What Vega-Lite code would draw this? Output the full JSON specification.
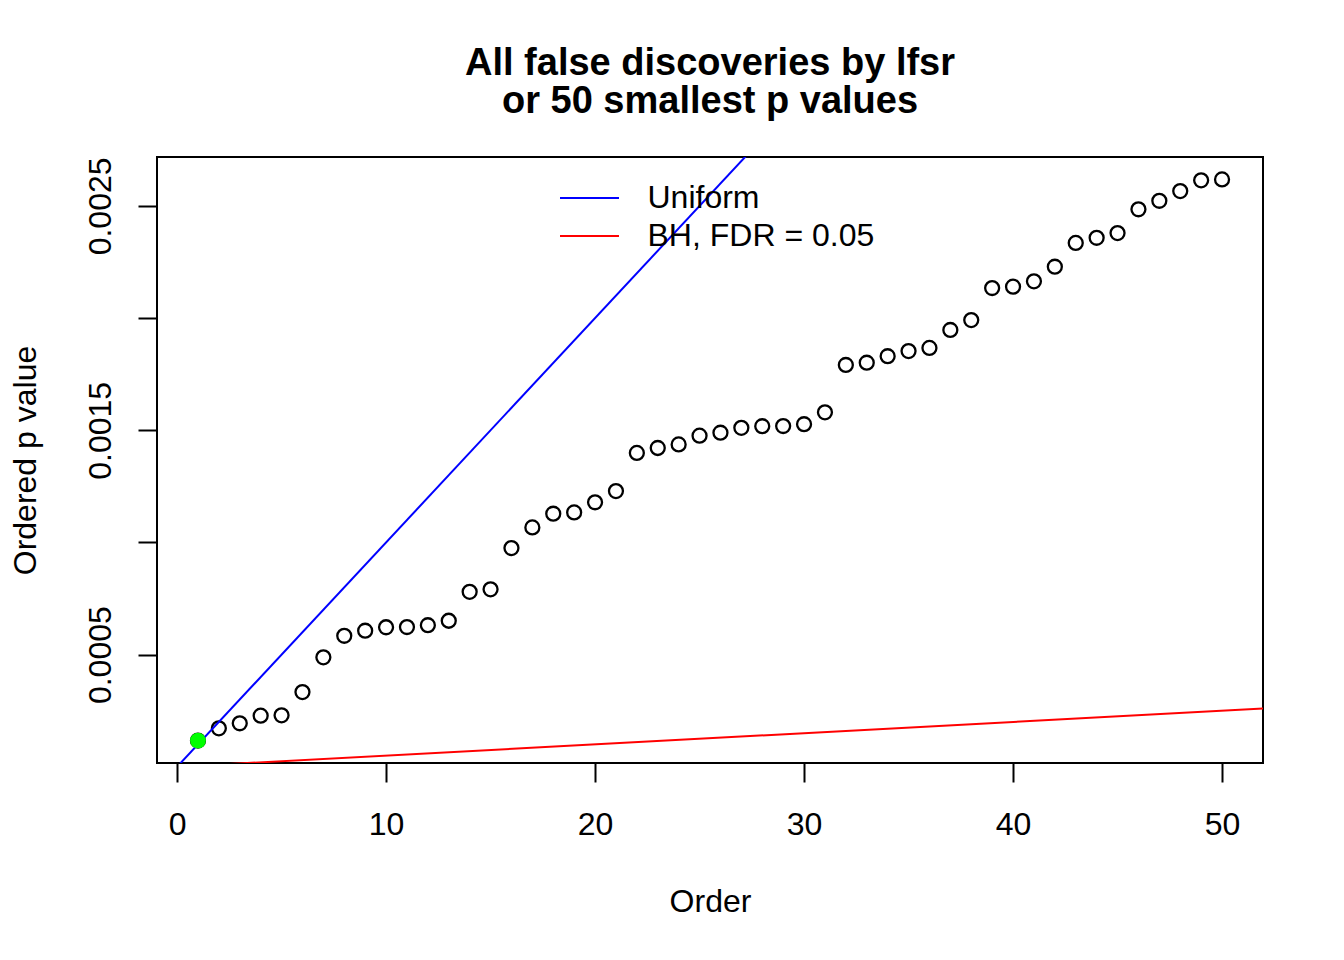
{
  "$schema": "https://vega.github.io/schema/vega-lite/v6.json",
  "width": 1106,
  "height": 606,
  "autosize": {"type": "none"},
  "padding": {"left": 157, "top": 157, "right": 81, "bottom": 197},
  "background": "white",
  "config": {
    "font": "Liberation Sans",
    "view": {"stroke": "black", "strokeWidth": 2},
    "axis": {
      "domain": false, "grid": false, "ticks": true,
      "tickColor": "black", "tickWidth": 2, "tickSize": 19,
      "labelFont": "Liberation Sans", "labelFontSize": 32, "labelColor": "black",
      "labelOverlap": false, "labelFlush": false,
      "titleFont": "Liberation Sans", "titleFontSize": 32, "titleFontWeight": "normal", "titleColor": "black"
    }
  },
  "title": {
    "text": ["All false discoveries by lfsr", "or 50 smallest p values"],
    "anchor": "middle", "frame": "group",
    "font": "Liberation Sans", "fontSize": 38, "fontWeight": "bold", "color": "black",
    "lineHeight": 38, "offset": 36
  },
  "datasets": {
    "pvals": [
      {"order": 1, "p": 0.000117, "lfsr": "yes"},
      {"order": 2, "p": 0.0001715, "lfsr": "no"},
      {"order": 3, "p": 0.000194, "lfsr": "no"},
      {"order": 4, "p": 0.000228, "lfsr": "no"},
      {"order": 5, "p": 0.0002294, "lfsr": "no"},
      {"order": 6, "p": 0.000333, "lfsr": "no"},
      {"order": 7, "p": 0.000488, "lfsr": "no"},
      {"order": 8, "p": 0.000584, "lfsr": "no"},
      {"order": 9, "p": 0.0006065, "lfsr": "no"},
      {"order": 10, "p": 0.000622, "lfsr": "no"},
      {"order": 11, "p": 0.000623, "lfsr": "no"},
      {"order": 12, "p": 0.000631, "lfsr": "no"},
      {"order": 13, "p": 0.000651, "lfsr": "no"},
      {"order": 14, "p": 0.00078, "lfsr": "no"},
      {"order": 15, "p": 0.000791, "lfsr": "no"},
      {"order": 16, "p": 0.000975, "lfsr": "no"},
      {"order": 17, "p": 0.001067, "lfsr": "no"},
      {"order": 18, "p": 0.001128, "lfsr": "no"},
      {"order": 19, "p": 0.001134, "lfsr": "no"},
      {"order": 20, "p": 0.001179, "lfsr": "no"},
      {"order": 21, "p": 0.001229, "lfsr": "no"},
      {"order": 22, "p": 0.001399, "lfsr": "no"},
      {"order": 23, "p": 0.001421, "lfsr": "no"},
      {"order": 24, "p": 0.001437, "lfsr": "no"},
      {"order": 25, "p": 0.001476, "lfsr": "no"},
      {"order": 26, "p": 0.001489, "lfsr": "no"},
      {"order": 27, "p": 0.001511, "lfsr": "no"},
      {"order": 28, "p": 0.001518, "lfsr": "no"},
      {"order": 29, "p": 0.001519, "lfsr": "no"},
      {"order": 30, "p": 0.001527, "lfsr": "no"},
      {"order": 31, "p": 0.00158, "lfsr": "no"},
      {"order": 32, "p": 0.001791, "lfsr": "no"},
      {"order": 33, "p": 0.001801, "lfsr": "no"},
      {"order": 34, "p": 0.00183, "lfsr": "no"},
      {"order": 35, "p": 0.001853, "lfsr": "no"},
      {"order": 36, "p": 0.001867, "lfsr": "no"},
      {"order": 37, "p": 0.001947, "lfsr": "no"},
      {"order": 38, "p": 0.001991, "lfsr": "no"},
      {"order": 39, "p": 0.002134, "lfsr": "no"},
      {"order": 40, "p": 0.00214, "lfsr": "no"},
      {"order": 41, "p": 0.002164, "lfsr": "no"},
      {"order": 42, "p": 0.002229, "lfsr": "no"},
      {"order": 43, "p": 0.002335, "lfsr": "no"},
      {"order": 44, "p": 0.002358, "lfsr": "no"},
      {"order": 45, "p": 0.002379, "lfsr": "no"},
      {"order": 46, "p": 0.002485, "lfsr": "no"},
      {"order": 47, "p": 0.002523, "lfsr": "no"},
      {"order": 48, "p": 0.002566, "lfsr": "no"},
      {"order": 49, "p": 0.002614, "lfsr": "no"},
      {"order": 50, "p": 0.002618, "lfsr": "no"}
    ],
    "refs": [
      {"series": "Uniform", "order": 0, "p": 0},
      {"series": "Uniform", "order": 28, "p": 0.0028},
      {"series": "BH, FDR = 0.05", "order": 0, "p": 0},
      {"series": "BH, FDR = 0.05", "order": 52, "p": 0.00026}
    ]
  },
  "layer": [
    {
      "data": {"name": "pvals"},
      "mark": {"type": "point", "shape": "circle", "filled": false, "stroke": "black", "strokeWidth": 2.3, "size": 195, "opacity": 1},
      "encoding": {
        "x": {
          "field": "order", "type": "quantitative",
          "scale": {"domain": [-0.96, 51.96], "nice": false, "zero": false},
          "axis": {"title": "Order", "values": [0, 10, 20, 30, 40, 50], "format": "d", "labelPadding": 27, "titlePadding": 46}
        },
        "y": {
          "field": "p", "type": "quantitative",
          "scale": {"domain": [0.00001696, 0.00271804], "nice": false, "zero": false},
          "axis": {
            "title": "Ordered p value",
            "values": [0.0005, 0.001, 0.0015, 0.002, 0.0025],
            "labelExpr": "round(datum.value * 2000) % 2 == 1 ? format(datum.value, '.4f') : ''",
            "labelAngle": -90, "labelAlign": "center", "labelBaseline": "bottom",
            "labelPadding": 21, "titlePadding": 42
          }
        }
      }
    },
    {
      "data": {"name": "refs"},
      "mark": {"type": "line", "clip": true, "strokeWidth": 2},
      "encoding": {
        "x": {"field": "order", "type": "quantitative"},
        "y": {"field": "p", "type": "quantitative"},
        "color": {
          "field": "series", "type": "nominal",
          "scale": {"domain": ["Uniform", "BH, FDR = 0.05"], "range": ["#0000ff", "#ff0000"]},
          "legend": {
            "orient": "none", "legendX": 416.5, "legendY": 25, "title": null,
            "symbolType": "M-2,0H2", "symbolSize": 870, "symbolStrokeWidth": 2,
            "labelFont": "Liberation Sans", "labelFontSize": 32, "labelColor": "black",
            "labelOffset": 42, "rowPadding": 6, "padding": 0, "labelLimit": 0
          }
        }
      }
    },
    {
      "data": {"name": "pvals"},
      "transform": [{"filter": "datum.lfsr == 'yes'"}],
      "mark": {"type": "circle", "fill": "#00ff00", "size": 250, "opacity": 1},
      "encoding": {
        "x": {"field": "order", "type": "quantitative"},
        "y": {"field": "p", "type": "quantitative"}
      }
    }
  ]
}
